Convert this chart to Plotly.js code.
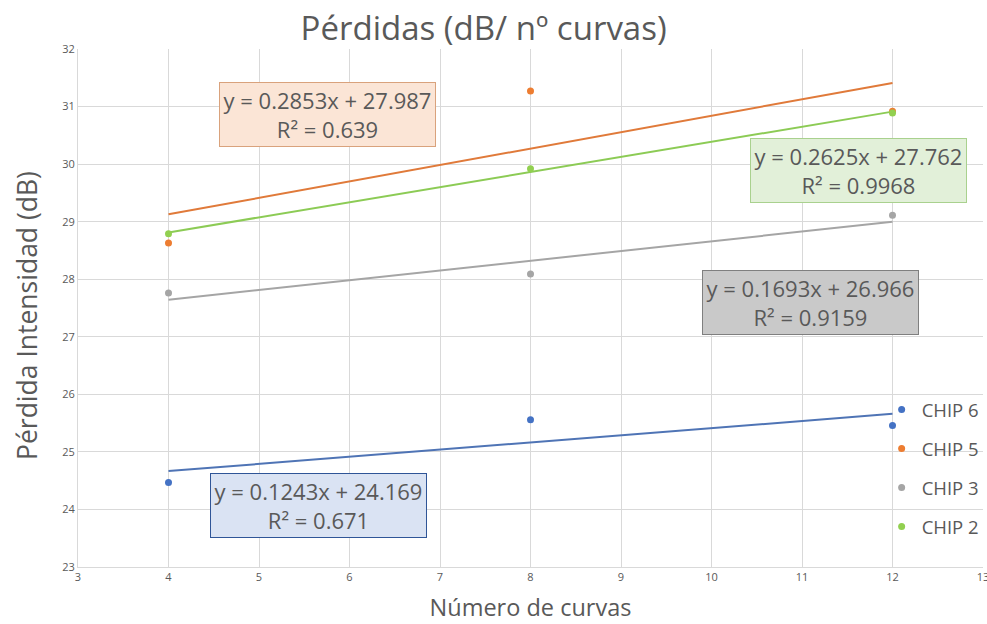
<!DOCTYPE html>
<html><head><meta charset="utf-8">
<script src="https://cdn.plot.ly/plotly-3.0.1.min.js"></script>
<style>html,body{margin:0;padding:0;background:#fff}#chart{width:987px;height:624px}</style>
</head><body><div id="chart"></div>
<script>
const curves = [4, 8, 12];
const seriesNames = ['CHIP 6', 'CHIP 5', 'CHIP 3', 'CHIP 2'];
const chip6 = [24.47, 25.56, 25.46];
const chip5 = [28.63, 31.27, 30.92];
const chip3 = [27.76, 28.09, 29.11];
const chip2 = [28.79, 29.92, 30.89];
const slopes = [0.1243, 0.2853, 0.1693, 0.2625];
const intercepts = [24.169, 27.987, 26.966, 27.762];
const r2 = ['0.671', '0.639', '0.9159', '0.9968'];
const colors = ['#4472C4', '#ED7D31', '#A5A5A5', '#92D050'];
const lineColors = ['#4F74B5', '#E07A3A', '#A5A5A5', '#8CCB55'];

const values = [chip6, chip5, chip3, chip2];
const traces = [];
values.forEach((v, i) => {
  const xs = [curves[0], curves[curves.length - 1]];
  traces.push({
    x: xs, y: xs.map(x => slopes[i] * x + intercepts[i]),
    mode: 'lines', line: {color: lineColors[i], width: 2},
    showlegend: false, hoverinfo: 'skip'
  });
});
values.forEach((v, i) => {
  traces.push({
    x: curves, y: v, name: seriesNames[i], mode: 'markers',
    marker: {color: colors[i], size: 7}, legendgroup: 'g' + i
  });
});

const boxStyle = [
  {bg: '#DAE3F3', bc: '#2F5597', x: 5.652, y: 24.075},
  {bg: '#FBE5D6', bc: '#D9A27C', x: 5.757, y: 30.866},
  {bg: '#C9C9C9', bc: '#7F7F7F', x: 11.094, y: 27.597},
  {bg: '#E2F0D9', bc: '#A9D18E', x: 11.624, y: 29.883}
];
const annotations = boxStyle.map((b, i) => ({
  x: b.x, y: b.y, xref: 'x', yref: 'y', showarrow: false,
  text: 'y = ' + slopes[i] + 'x + ' + intercepts[i].toFixed(3) + '<br>R² = ' + r2[i],
  font: {family: 'Open Sans', size: 22, color: '#595959'},
  bgcolor: b.bg, bordercolor: b.bc, borderwidth: 1, borderpad: 2,
  width: 211, height: 59, align: 'center'
}));
annotations.push({
  x: (27 - 78) / 905, y: 0.5 - (316 - 308) / 518, xref: 'paper', yref: 'paper',
  xanchor: 'center', yanchor: 'middle',
  showarrow: false, textangle: -90, text: 'Pérdida Intensidad (dB)',
  font: {family: 'Open Sans', size: 26.5, color: '#595959'}
});

const layout = {
  width: 987, height: 624,
  margin: {l: 78, r: 4, t: 49, b: 57, autoexpand: false},
  paper_bgcolor: '#fff', plot_bgcolor: '#fff',
  font: {family: 'Open Sans', color: '#595959'},
  title: {text: 'Pérdidas (dB/ nº curvas)', x: 0.49, xanchor: 'center', y: 0.955, yanchor: 'middle',
    font: {family: 'Open Sans', size: 33, color: '#595959'}},
  xaxis: {range: [3, 13], dtick: 1, tick0: 3, showgrid: true, gridcolor: '#D9D9D9', gridwidth: 1,
    zeroline: false, showline: true, linecolor: '#D9D9D9', ticks: '', automargin: false,
    ticklabeloverflow: 'allow',
    tickfont: {size: 11, color: '#595959'},
    title: {text: 'Número de curvas', font: {size: 23.5, color: '#595959'}, standoff: 16}},
  yaxis: {range: [23, 32], dtick: 1, showgrid: true, gridcolor: '#D9D9D9', gridwidth: 1,
    zeroline: false, showline: true, linecolor: '#D9D9D9', ticks: '', automargin: false,
    tickfont: {size: 11, color: '#595959'}},
  legend: {x: 0.888, y: 0.34, xanchor: 'left', yanchor: 'top', bgcolor: 'rgba(255,255,255,0)',
    font: {size: 18.5, color: '#595959'}, tracegroupgap: 12, itemwidth: 30},
  annotations: annotations,
  showlegend: true
};
Plotly.newPlot('chart', traces, layout, {displayModeBar: false, staticPlot: true});
</script></body></html>
